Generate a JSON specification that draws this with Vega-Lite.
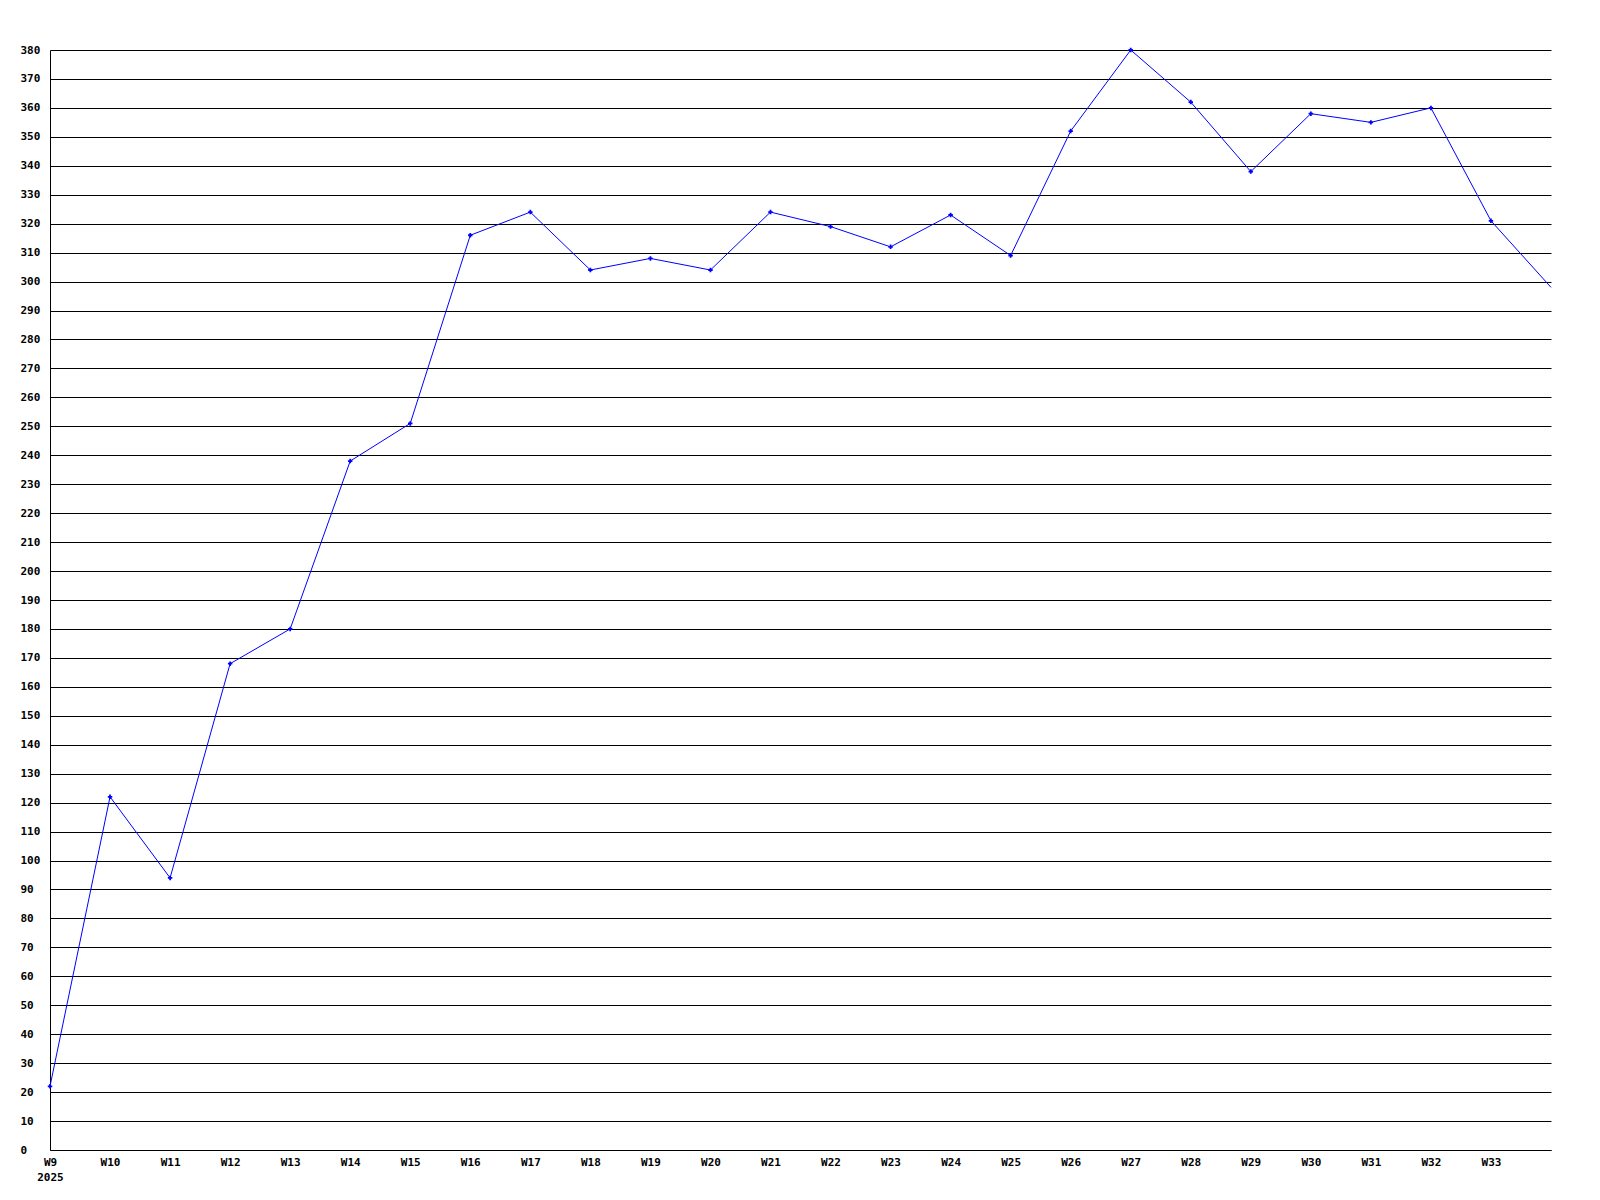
{
  "$schema": "https://vega.github.io/schema/vega-lite/v6.json",
  "width": 1501,
  "height": 1100,
  "autosize": {"type": "none"},
  "padding": {"left": 50, "top": 50, "right": 49, "bottom": 50},
  "background": "white",
  "config": {"view": {"stroke": null}, "font": "DejaVu Sans Mono"},
  "data": {
    "values": [
      {"week": 9, "value": 22},
      {"week": 10, "value": 122},
      {"week": 11, "value": 94},
      {"week": 12, "value": 168},
      {"week": 13, "value": 180},
      {"week": 14, "value": 238},
      {"week": 15, "value": 251},
      {"week": 16, "value": 316},
      {"week": 17, "value": 324},
      {"week": 18, "value": 304},
      {"week": 19, "value": 308},
      {"week": 20, "value": 304},
      {"week": 21, "value": 324},
      {"week": 22, "value": 319},
      {"week": 23, "value": 312},
      {"week": 24, "value": 323},
      {"week": 25, "value": 309},
      {"week": 26, "value": 352},
      {"week": 27, "value": 380},
      {"week": 28, "value": 362},
      {"week": 29, "value": 338},
      {"week": 30, "value": 358},
      {"week": 31, "value": 355},
      {"week": 32, "value": 360},
      {"week": 33, "value": 321},
      {"week": 34, "value": 298}
    ]
  },
  "encoding": {
    "x": {
      "field": "week",
      "type": "quantitative",
      "scale": {"domain": [9, 34], "nice": false, "zero": false},
      "axis": {
        "title": null,
        "values": [9,10,11,12,13,14,15,16,17,18,19,20,21,22,23,24,25,26,27,28,29,30,31,32,33],
        "labelExpr": "datum.value == 9 ? ['W9 ', '2025'] : 'W' + datum.value",
        "ticks": false,
        "grid": false,
        "domainColor": "black",
        "domainWidth": 1,
        "labelFont": "DejaVu Sans Mono",
        "labelFontWeight": "bold",
        "labelFontSize": 11,
        "labelColor": "black",
        "labelPadding": 6,
        "labelLineHeight": 15,
        "labelFlush": false,
        "labelOverlap": false
      }
    },
    "y": {
      "field": "value",
      "type": "quantitative",
      "scale": {"domain": [0, 380], "nice": false},
      "axis": {
        "title": null,
        "values": [0,10,20,30,40,50,60,70,80,90,100,110,120,130,140,150,160,170,180,190,200,210,220,230,240,250,260,270,280,290,300,310,320,330,340,350,360,370,380],
        "ticks": false,
        "grid": true,
        "gridColor": "black",
        "gridOpacity": 1,
        "gridWidth": 1,
        "domainColor": "black",
        "domainWidth": 1,
        "labelFont": "DejaVu Sans Mono",
        "labelFontWeight": "bold",
        "labelFontSize": 11,
        "labelColor": "black",
        "labelAlign": "left",
        "labelPadding": 30,
        "labelFlush": false,
        "labelOverlap": false
      }
    }
  },
  "layer": [
    {
      "mark": {"type": "line", "color": "#0000ff", "strokeWidth": 1}
    },
    {
      "transform": [{"filter": "datum.week <= 33"}],
      "mark": {"type": "point", "shape": "cross", "filled": true, "color": "#0000ff", "size": 20, "opacity": 1}
    }
  ]
}
